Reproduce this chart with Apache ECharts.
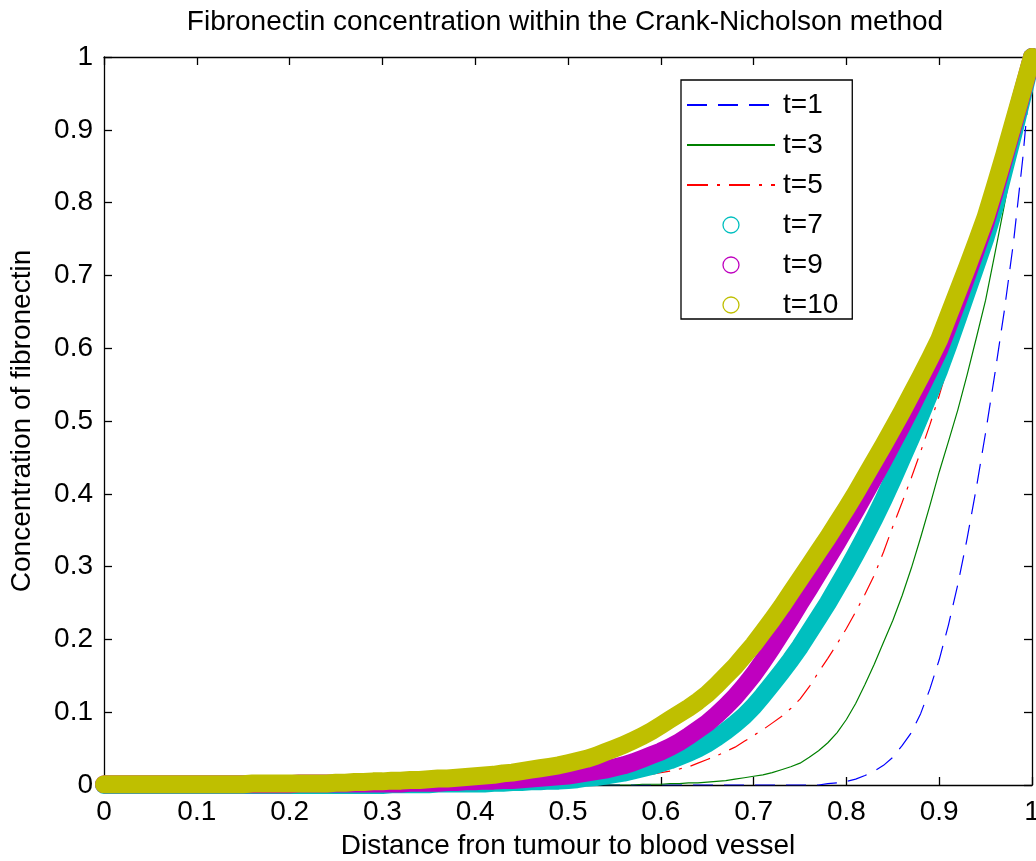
<!DOCTYPE html>
<html>
<head>
<meta charset="utf-8">
<script src="https://cdn.jsdelivr.net/npm/echarts@6/dist/echarts.min.js"></script>
<style>
  html, body { margin: 0; padding: 0; background: #fff; }
  #chart { width: 1036px; height: 861px; }
</style>
</head>
<body>
<div id="chart"></div>
<script>
// distance from tumour (x), step 0.01
var xs = [0,0.01,0.02,0.03,0.04,0.05,0.06,0.07,0.08,0.09,
  0.1,0.11,0.12,0.13,0.14,0.15,0.16,0.17,0.18,0.19,
  0.2,0.21,0.22,0.23,0.24,0.25,0.26,0.27,0.28,0.29,
  0.3,0.31,0.32,0.33,0.34,0.35,0.36,0.37,0.38,0.39,
  0.4,0.41,0.42,0.43,0.44,0.45,0.46,0.47,0.48,0.49,
  0.5,0.51,0.52,0.53,0.54,0.55,0.56,0.57,0.58,0.59,
  0.6,0.61,0.62,0.63,0.64,0.65,0.66,0.67,0.68,0.69,
  0.7,0.71,0.72,0.73,0.74,0.75,0.76,0.77,0.78,0.79,
  0.8,0.81,0.82,0.83,0.84,0.85,0.86,0.87,0.88,0.89,
  0.9,0.91,0.92,0.93,0.94,0.95,0.96,0.97,0.98,0.99,1];

// concentration, one array per time
var t1 = [0,0,0,0,0,0,0,0,0,0,
  0,0,0,0,0,0,0,0,0,0,
  0,0,0,0,0,0,0,0,0,0,
  0,0,0,0,0,0,0,0,0,0,
  0,0,0,0,0,0,0,0,0,0,
  0,0,0,0,0,0,0,0,0,0,
  0,0,0,0,0,0,0,0,0,0,
  0,0,0,0,0,0,0,0,0.002,0.003,
  0.005,0.008,0.013,0.019,0.027,0.038,0.054,0.072,0.098,0.132,
  0.172,0.220,0.275,0.338,0.408,0.484,0.565,0.650,0.745,0.860,1];

var t3 = [0,0,0,0,0,0,0,0,0,0,
  0,0,0,0,0,0,0,0,0,0,
  0,0,0,0,0,0,0,0,0,0,
  0,0,0,0,0,0,0,0,0,0,
  0,0,0,0,0,0,0,0,0,0,
  0,0,0,0,0,0,0,0,0.001,0.001,
  0.001,0.002,0.002,0.003,0.003,0.004,0.005,0.006,0.008,0.010,
  0.012,0.014,0.017,0.021,0.025,0.030,0.038,0.047,0.058,0.072,
  0.090,0.112,0.138,0.166,0.196,0.226,0.260,0.298,0.340,0.384,
  0.430,0.472,0.515,0.563,0.614,0.666,0.730,0.795,0.862,0.930,1];

var t5 = [0,0,0,0,0,0,0,0,0,0,
  0,0,0,0,0,0,0,0,0,0,
  0,0,0,0,0,0,0,0,0,0,
  0,0,0,0,0,0,0,0,0,0,
  0,0.001,0.001,0.001,0.001,0.001,0.001,0.001,0.002,0.002,
  0.002,0.003,0.004,0.005,0.006,0.007,0.009,0.011,0.013,0.015,
  0.017,0.019,0.022,0.025,0.030,0.035,0.040,0.046,0.052,0.060,
  0.068,0.076,0.085,0.094,0.105,0.118,0.135,0.155,0.174,0.194,
  0.215,0.238,0.262,0.288,0.320,0.355,0.388,0.422,0.458,0.495,
  0.535,0.578,0.622,0.665,0.708,0.752,0.800,0.850,0.900,0.950,1];

var t7 = [0,0,0,0,0,0,0,0,0,0,
  0,0,0,0,0,0,0,0,0,0,
  0,0,0,0,0,0,0,0,0,0,
  0,0.001,0.001,0.001,0.001,0.001,0.002,0.002,0.002,0.002,
  0.002,0.002,0.003,0.003,0.004,0.004,0.005,0.005,0.006,0.006,
  0.007,0.008,0.010,0.011,0.013,0.015,0.017,0.020,0.023,0.026,
  0.030,0.034,0.039,0.044,0.050,0.057,0.065,0.074,0.084,0.095,
  0.108,0.123,0.139,0.155,0.172,0.190,0.210,0.230,0.250,0.272,
  0.294,0.317,0.341,0.366,0.392,0.420,0.449,0.478,0.508,0.539,
  0.570,0.605,0.641,0.678,0.715,0.752,0.795,0.845,0.895,0.947,1];

var t9 = [0.001,0.001,0.001,0.001,0.001,0.001,0.001,0.001,0.001,0.001,
  0.001,0.001,0.001,0.001,0.001,0.001,0.001,0.001,0.001,0.001,
  0.001,0.002,0.002,0.002,0.002,0.002,0.002,0.002,0.002,0.002,
  0.002,0.002,0.002,0.003,0.003,0.003,0.003,0.004,0.004,0.005,
  0.005,0.006,0.006,0.007,0.007,0.008,0.009,0.010,0.011,0.012,
  0.013,0.015,0.017,0.019,0.021,0.024,0.027,0.031,0.036,0.041,
  0.046,0.052,0.059,0.067,0.076,0.085,0.096,0.108,0.121,0.136,
  0.152,0.170,0.189,0.209,0.229,0.250,0.270,0.291,0.312,0.333,
  0.355,0.377,0.400,0.423,0.446,0.470,0.494,0.519,0.545,0.571,
  0.598,0.631,0.665,0.700,0.736,0.772,0.815,0.860,0.906,0.953,1];

var t10 = [0.001,0.001,0.001,0.001,0.001,0.001,0.001,0.001,0.001,0.001,
  0.001,0.001,0.001,0.001,0.001,0.001,0.002,0.002,0.002,0.002,
  0.002,0.002,0.002,0.002,0.002,0.003,0.003,0.004,0.004,0.005,
  0.005,0.006,0.006,0.007,0.007,0.008,0.009,0.009,0.010,0.011,
  0.012,0.013,0.014,0.016,0.017,0.019,0.021,0.023,0.025,0.027,
  0.030,0.033,0.036,0.040,0.045,0.050,0.055,0.061,0.067,0.074,
  0.082,0.090,0.098,0.106,0.115,0.125,0.137,0.150,0.163,0.178,
  0.193,0.210,0.227,0.245,0.264,0.283,0.302,0.321,0.340,0.360,
  0.380,0.401,0.423,0.445,0.467,0.490,0.513,0.537,0.561,0.586,
  0.612,0.645,0.678,0.711,0.745,0.780,0.822,0.865,0.910,0.955,1];

var names = ['t=1', 't=3', 't=5', 't=7', 't=9', 't=10'];

function pairs(arr) {
  return xs.map(function (x, i) { return [x, arr[i]]; });
}

var font = 'Liberation Sans, Arial, sans-serif';
var fs = 28;
var chart = echarts.init(document.getElementById('chart'));

function thinLine(name, arr, color, dash) {
  return {
    name: name, type: 'line', data: pairs(arr),
    symbol: 'none', z: 2,
    itemStyle: { color: color },
    lineStyle: { color: color, width: 1.2, type: dash }
  };
}
function circleBand(name, arr, color) {
  // dense 'o' markers show as a solid band
  return {
    name: name, type: 'line', data: pairs(arr),
    symbol: 'none', clip: false, z: 2,
    itemStyle: { color: color },
    lineStyle: { color: color, width: 18, cap: 'round', join: 'round' }
  };
}

var axisCommon = {
  type: 'value', min: 0, max: 1, interval: 0.1,
  axisLine: { show: true, onZero: false, lineStyle: { color: '#000', width: 1.3 } },
  axisTick: { show: true, inside: true, length: 8, lineStyle: { color: '#000', width: 1.3 } },
  splitLine: { show: false }
};

var option = {
  animation: false,
  backgroundColor: '#fff',
  title: {
    text: 'Fibronectin concentration within the Crank-Nicholson method',
    left: 560, top: 3, textAlign: 'center',
    textStyle: { fontFamily: font, fontSize: fs, fontWeight: 'normal', color: '#000' }
  },
  grid: { left: 104, right: 4, top: 57, bottom: 76, containLabel: false, outerBoundsMode: 'none' },
  legend: {
    orient: 'vertical', left: 681, top: 80,
    padding: [11, 14, 0, 5],
    itemWidth: 88, itemHeight: 16, itemGap: 12,
    backgroundColor: '#fff', borderColor: '#000', borderWidth: 1.3,
    textStyle: { fontFamily: font, fontSize: fs, color: '#000', padding: [0, 0, 0, 3] },
    data: [
      { name: 't=1', itemStyle: { opacity: 0 } },
      { name: 't=3', itemStyle: { opacity: 0 } },
      { name: 't=5', itemStyle: { opacity: 0 } },
      { name: 't=7', icon: 'circle', itemStyle: { color: 'rgba(0,0,0,0)', borderColor: '#00bfbf', borderWidth: 1.3 } },
      { name: 't=9', icon: 'circle', itemStyle: { color: 'rgba(0,0,0,0)', borderColor: '#bf00bf', borderWidth: 1.3 } },
      { name: 't=10', icon: 'circle', itemStyle: { color: 'rgba(0,0,0,0)', borderColor: '#bfbf00', borderWidth: 1.3 } }
    ]
  },
  xAxis: [
    Object.assign({}, axisCommon, {
      position: 'bottom',
      name: 'Distance fron tumour to blood vessel',
      nameLocation: 'middle', nameGap: 47,
      nameTextStyle: { fontFamily: font, fontSize: fs, color: '#000' },
      axisLabel: { margin: 13, fontFamily: font, fontSize: fs, color: '#000' }
    }),
    Object.assign({}, axisCommon, { position: 'top', axisLabel: { show: false } })
  ],
  yAxis: [
    Object.assign({}, axisCommon, {
      position: 'left',
      name: 'Concentration of fibronectin',
      nameLocation: 'middle', nameGap: 68,
      nameTextStyle: { fontFamily: font, fontSize: fs, color: '#000' },
      axisLabel: { margin: 11, fontFamily: font, fontSize: fs, color: '#000' }
    }),
    Object.assign({}, axisCommon, { position: 'right', axisLabel: { show: false } })
  ],
  series: [
    thinLine(names[0], t1, '#0000ff', [20, 11]),
    thinLine(names[1], t3, '#008000', 'solid'),
    thinLine(names[2], t5, '#ff0000', [21, 9, 3, 9]),
    circleBand(names[3], t7, '#00bfbf'),
    circleBand(names[4], t9, '#bf00bf'),
    circleBand(names[5], t10, '#bfbf00')
  ]
};

chart.setOption(option);
</script>
</body>
</html>
